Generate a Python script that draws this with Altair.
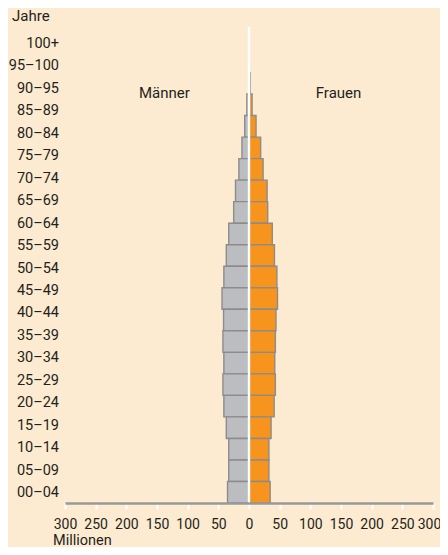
import altair as alt
import pandas as pd

ages = ["100+", "95–100", "90–95", "85–89", "80–84", "75–79", "70–74", "65–69",
        "60–64", "55–59", "50–54", "45–49", "40–44", "35–39", "30–34", "25–29",
        "20–24", "15–19", "10–14", "05–09", "00–04"]
men = [0.2, 0.4, 3.5, 7, 11.5, 16.5, 22, 25, 33, 37, 41, 44, 41.5, 42.5, 41, 42.5,
       41, 37, 33, 33, 35]
women = [0.5, 1.8, 5, 11.5, 19, 23, 29.5, 30.5, 38, 41.5, 45.5, 46.5, 44, 43, 42,
         43, 41, 36, 32.5, 32.5, 34.5]
x_ticks = [-300, -250, -200, -150, -100, -50, 0, 50, 100, 150, 200, 250, 300]

BG = "#fdebd1"
FONT = "Roboto"
TXT = "#231f20"

rows = []
for a, m, w in zip(ages, men, women):
    rows.append({"age": a, "sex": "Männer", "value": -m})
    rows.append({"age": a, "sex": "Frauen", "value": w})
df = pd.DataFrame(rows)
lab = pd.DataFrame({"label": ages})

W, H = 368, 476

xscale = alt.Scale(domain=[-300, 300], nice=False, zero=False)
xaxis = alt.Axis(values=x_ticks, labelExpr="abs(datum.value)", title=None,
                 grid=False, domainColor="#999999", domainWidth=2.5,
                 tickColor="white", tickWidth=2, tickSize=6,
                 labelFont=FONT, labelFontSize=14, labelColor=TXT,
                 labelPadding=8, labelFlush=False, labelOverlap=False,
                 labelOffset={"condition": {"test": "datum.value === 300", "value": -4},
                              "value": 0},
                 zindex=1)

bars = alt.Chart(df).mark_bar(stroke="#8c8c8c", strokeWidth=1.4).encode(
    x=alt.X("value:Q", scale=xscale, stack=None, axis=xaxis),
    y=alt.Y("age:N", sort=ages, axis=None,
            scale=alt.Scale(range=[24, 476], paddingInner=0, paddingOuter=0)),
    color=alt.Color("sex:N", legend=None,
                    scale=alt.Scale(domain=["Männer", "Frauen"],
                                    range=["#bcbdc1", "#f7941e"])),
)

center = alt.Chart(pd.DataFrame({"z": [0]})).mark_rule(color="white", strokeWidth=2.4).encode(
    x=alt.X("z:Q", scale=xscale, axis=xaxis),
    y=alt.value(0),
    y2=alt.value(H),
)

labels = alt.Chart(lab).mark_text(align="right", baseline="middle", font=FONT,
                                  fontSize=14.5, color=TXT).encode(
    x=alt.value(-6),
    y=alt.Y("label:N", sort=ages, axis=None,
            scale=alt.Scale(type="point", range=[17, 466], padding=0)),
    text="label:N",
)

ann = pd.DataFrame({"t": ["Männer", "Frauen"], "xv": [-138, 146]})
sexlab = alt.Chart(ann).mark_text(align="center", baseline="alphabetic", font=FONT,
                                   fontSize=15, color=TXT).encode(
    x=alt.X("xv:Q", scale=xscale, axis=xaxis),
    y=alt.value(71),
    text="t:N",
)

jahre = alt.Chart(pd.DataFrame({"t": ["Jahre"]})).mark_text(
    align="left", baseline="alphabetic", font=FONT, fontSize=15, color=TXT).encode(
    x=alt.value(-53), y=alt.value(-6), text="t:N")

mill = alt.Chart(pd.DataFrame({"t": ["Millionen"]})).mark_text(
    align="left", baseline="alphabetic", font=FONT, fontSize=14.5, color=TXT).encode(
    x=alt.value(-12), y=alt.value(518), text="t:N")

chart = alt.layer(bars, center, labels, sexlab, jahre, mill).resolve_scale(
    y="independent"
).properties(
    width=W, height=H,
    autosize=alt.AutoSizeParams(type="none"),
    padding={"left": 57, "top": 19, "right": 7, "bottom": 44},
    background=BG,
    usermeta={"embedOptions": {"defaultStyle":
        "html,body{background:%s;}" % BG}},
).configure_view(stroke=None)

chart.save("out.html", embed_options={"renderer": "svg", "actions": False})
